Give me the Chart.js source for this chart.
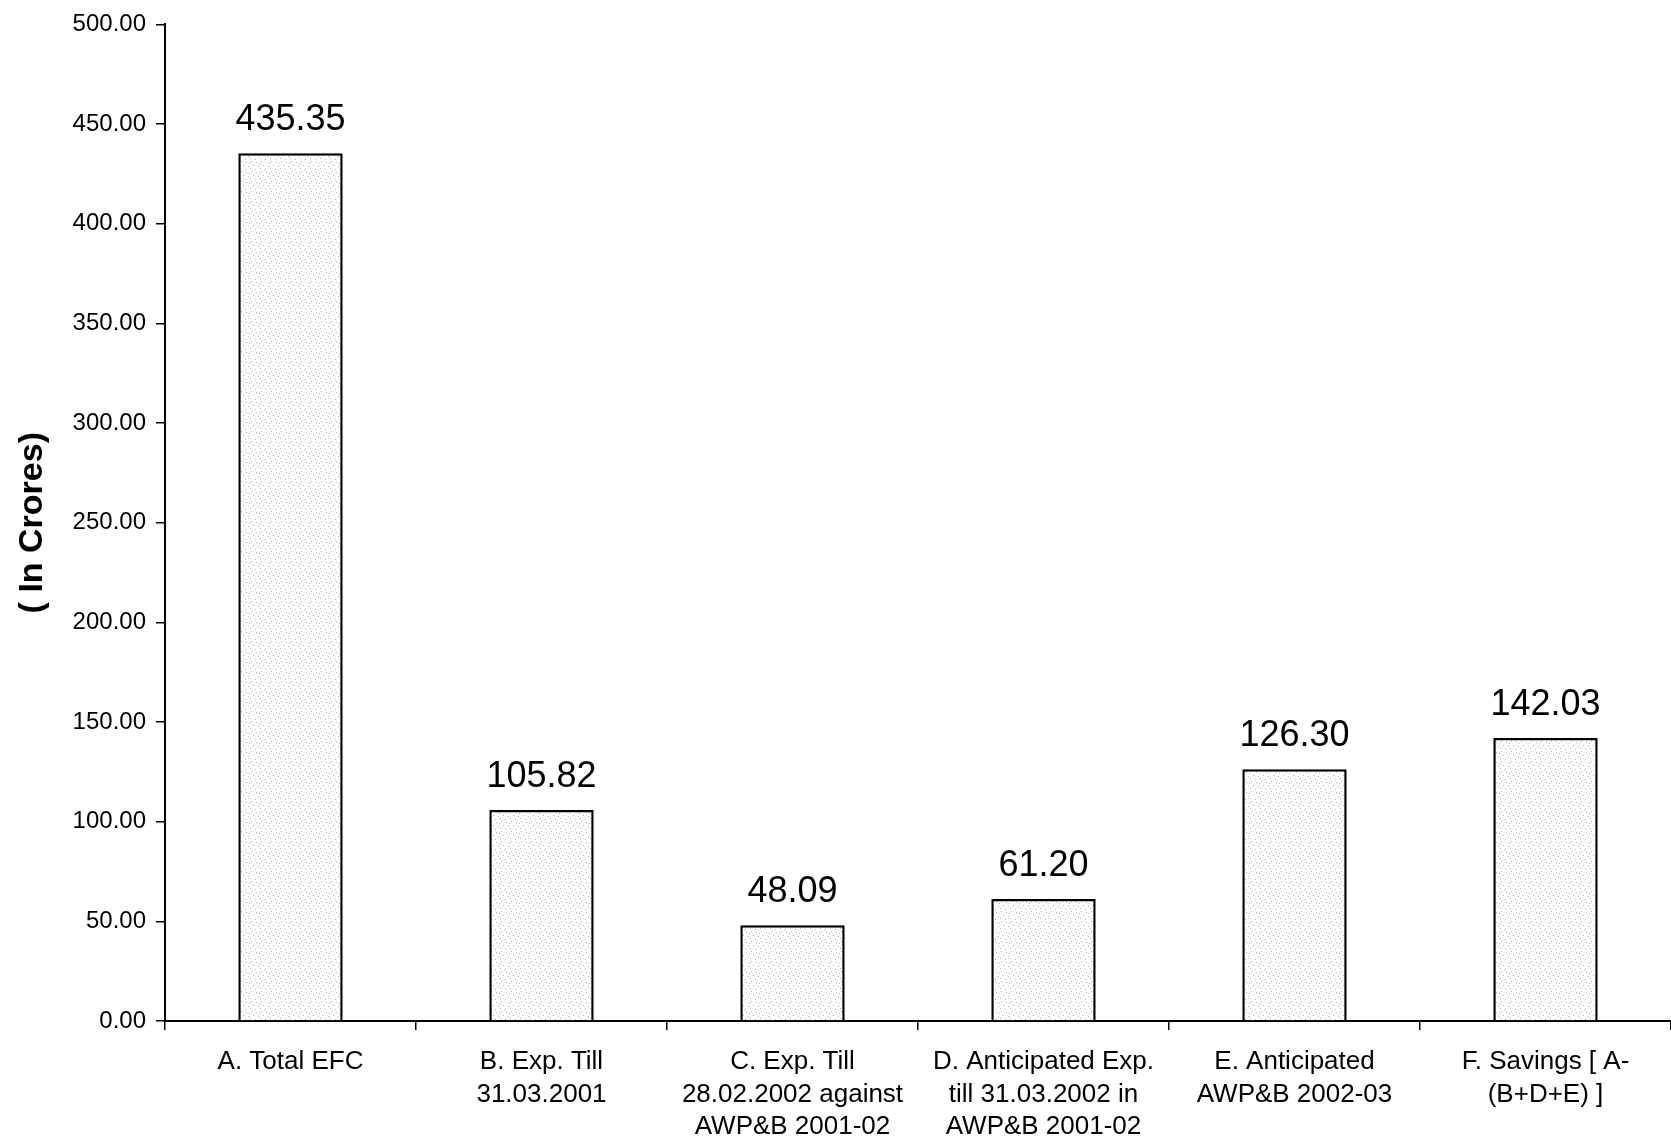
<!DOCTYPE html>
<html>
<head>
<meta charset="utf-8">
<script src="https://cdn.jsdelivr.net/npm/chart.js@4.4.0/dist/chart.umd.min.js"></script>
<style>
html,body{margin:0;padding:0;background:#fff;}
#wrap{width:1671px;height:1145px;position:relative;}
</style>
</head>
<body>
<div id="wrap"><canvas id="c" width="1671" height="1145"></canvas></div>
<script>
const categories = [
  "A. Total EFC",
  ["B. Exp. Till", "31.03.2001"],
  ["C. Exp. Till", "28.02.2002 against", "AWP&B 2001-02"],
  ["D. Anticipated Exp.", "till 31.03.2002 in", "AWP&B 2001-02"],
  ["E. Anticipated", "AWP&B 2002-03"],
  ["F. Savings [ A-", "(B+D+E) ]"]
];
const values = [435.35, 105.82, 48.09, 61.20, 126.30, 142.03];
const yTitle = "( In Crores)";

function makePattern() {
  const p = document.createElement('canvas');
  p.width = 10; p.height = 10;
  const g = p.getContext('2d');
  g.fillStyle = '#ffffff';
  g.fillRect(0, 0, 10, 10);
  g.fillStyle = '#b0b0b0';
  const dots = [[1,1],[6,2],[3,5],[8,6],[0,8],[5,9],[9,3]];
  dots.forEach(d => g.fillRect(d[0], d[1], 1, 1));
  return document.getElementById('c').getContext('2d').createPattern(p, 'repeat');
}

const valueLabels = {
  id: 'valueLabels',
  afterDatasetsDraw(chart) {
    const ctx = chart.ctx;
    const meta = chart.getDatasetMeta(0);
    ctx.save();
    ctx.font = '36px "Liberation Sans", Arial, sans-serif';
    ctx.fillStyle = '#000';
    ctx.textAlign = 'center';
    ctx.textBaseline = 'bottom';
    meta.data.forEach((bar, i) => {
      ctx.fillText(values[i].toFixed(2), bar.x, bar.y - 15);
    });
    ctx.restore();
  }
};

new Chart(document.getElementById('c'), {
  type: 'bar',
  data: {
    labels: categories,
    datasets: [{
      data: values,
      backgroundColor: makePattern(),
      borderColor: '#000',
      borderWidth: 2.5,
      borderSkipped: 'bottom',
      categoryPercentage: 0.8,
      barPercentage: 0.52
    }]
  },
  options: {
    responsive: false,
    animation: false,
    layout: { padding: { top: 10, right: 0, left: 0, bottom: 0 } },
    plugins: { legend: { display: false }, tooltip: { enabled: false } },
    scales: {
      x: {
        grid: { drawOnChartArea: false, drawTicks: true, tickLength: 9, color: '#000', lineWidth: 1.5, offset: true },
        border: { color: '#000', width: 2 },
        ticks: {
          color: '#000',
          font: { family: '"Liberation Sans", Arial, sans-serif', size: 26, lineHeight: 1.25 },
          padding: 16,
          maxRotation: 0,
          autoSkip: false
        },
        afterFit(s) { s.height = 124; }
      },
      y: {
        min: 0, max: 500,
        grid: { drawOnChartArea: false, drawTicks: true, tickLength: 9, color: '#000', lineWidth: 1.5 },
        border: { color: '#000', width: 2 },
        ticks: {
          stepSize: 50,
          color: '#000',
          font: { family: '"Liberation Sans", Arial, sans-serif', size: 24 },
          padding: 10,
          callback: v => Number(v).toFixed(2)
        },
        title: {
          display: true,
          text: yTitle,
          color: '#000',
          font: { family: '"Liberation Sans", Arial, sans-serif', size: 34, weight: 'bold' },
          padding: { top: 12, bottom: 8 }
        },
        afterFit(s) { s.width = 165; }
      }
    }
  },
  plugins: [valueLabels]
});
</script>
</body>
</html>
